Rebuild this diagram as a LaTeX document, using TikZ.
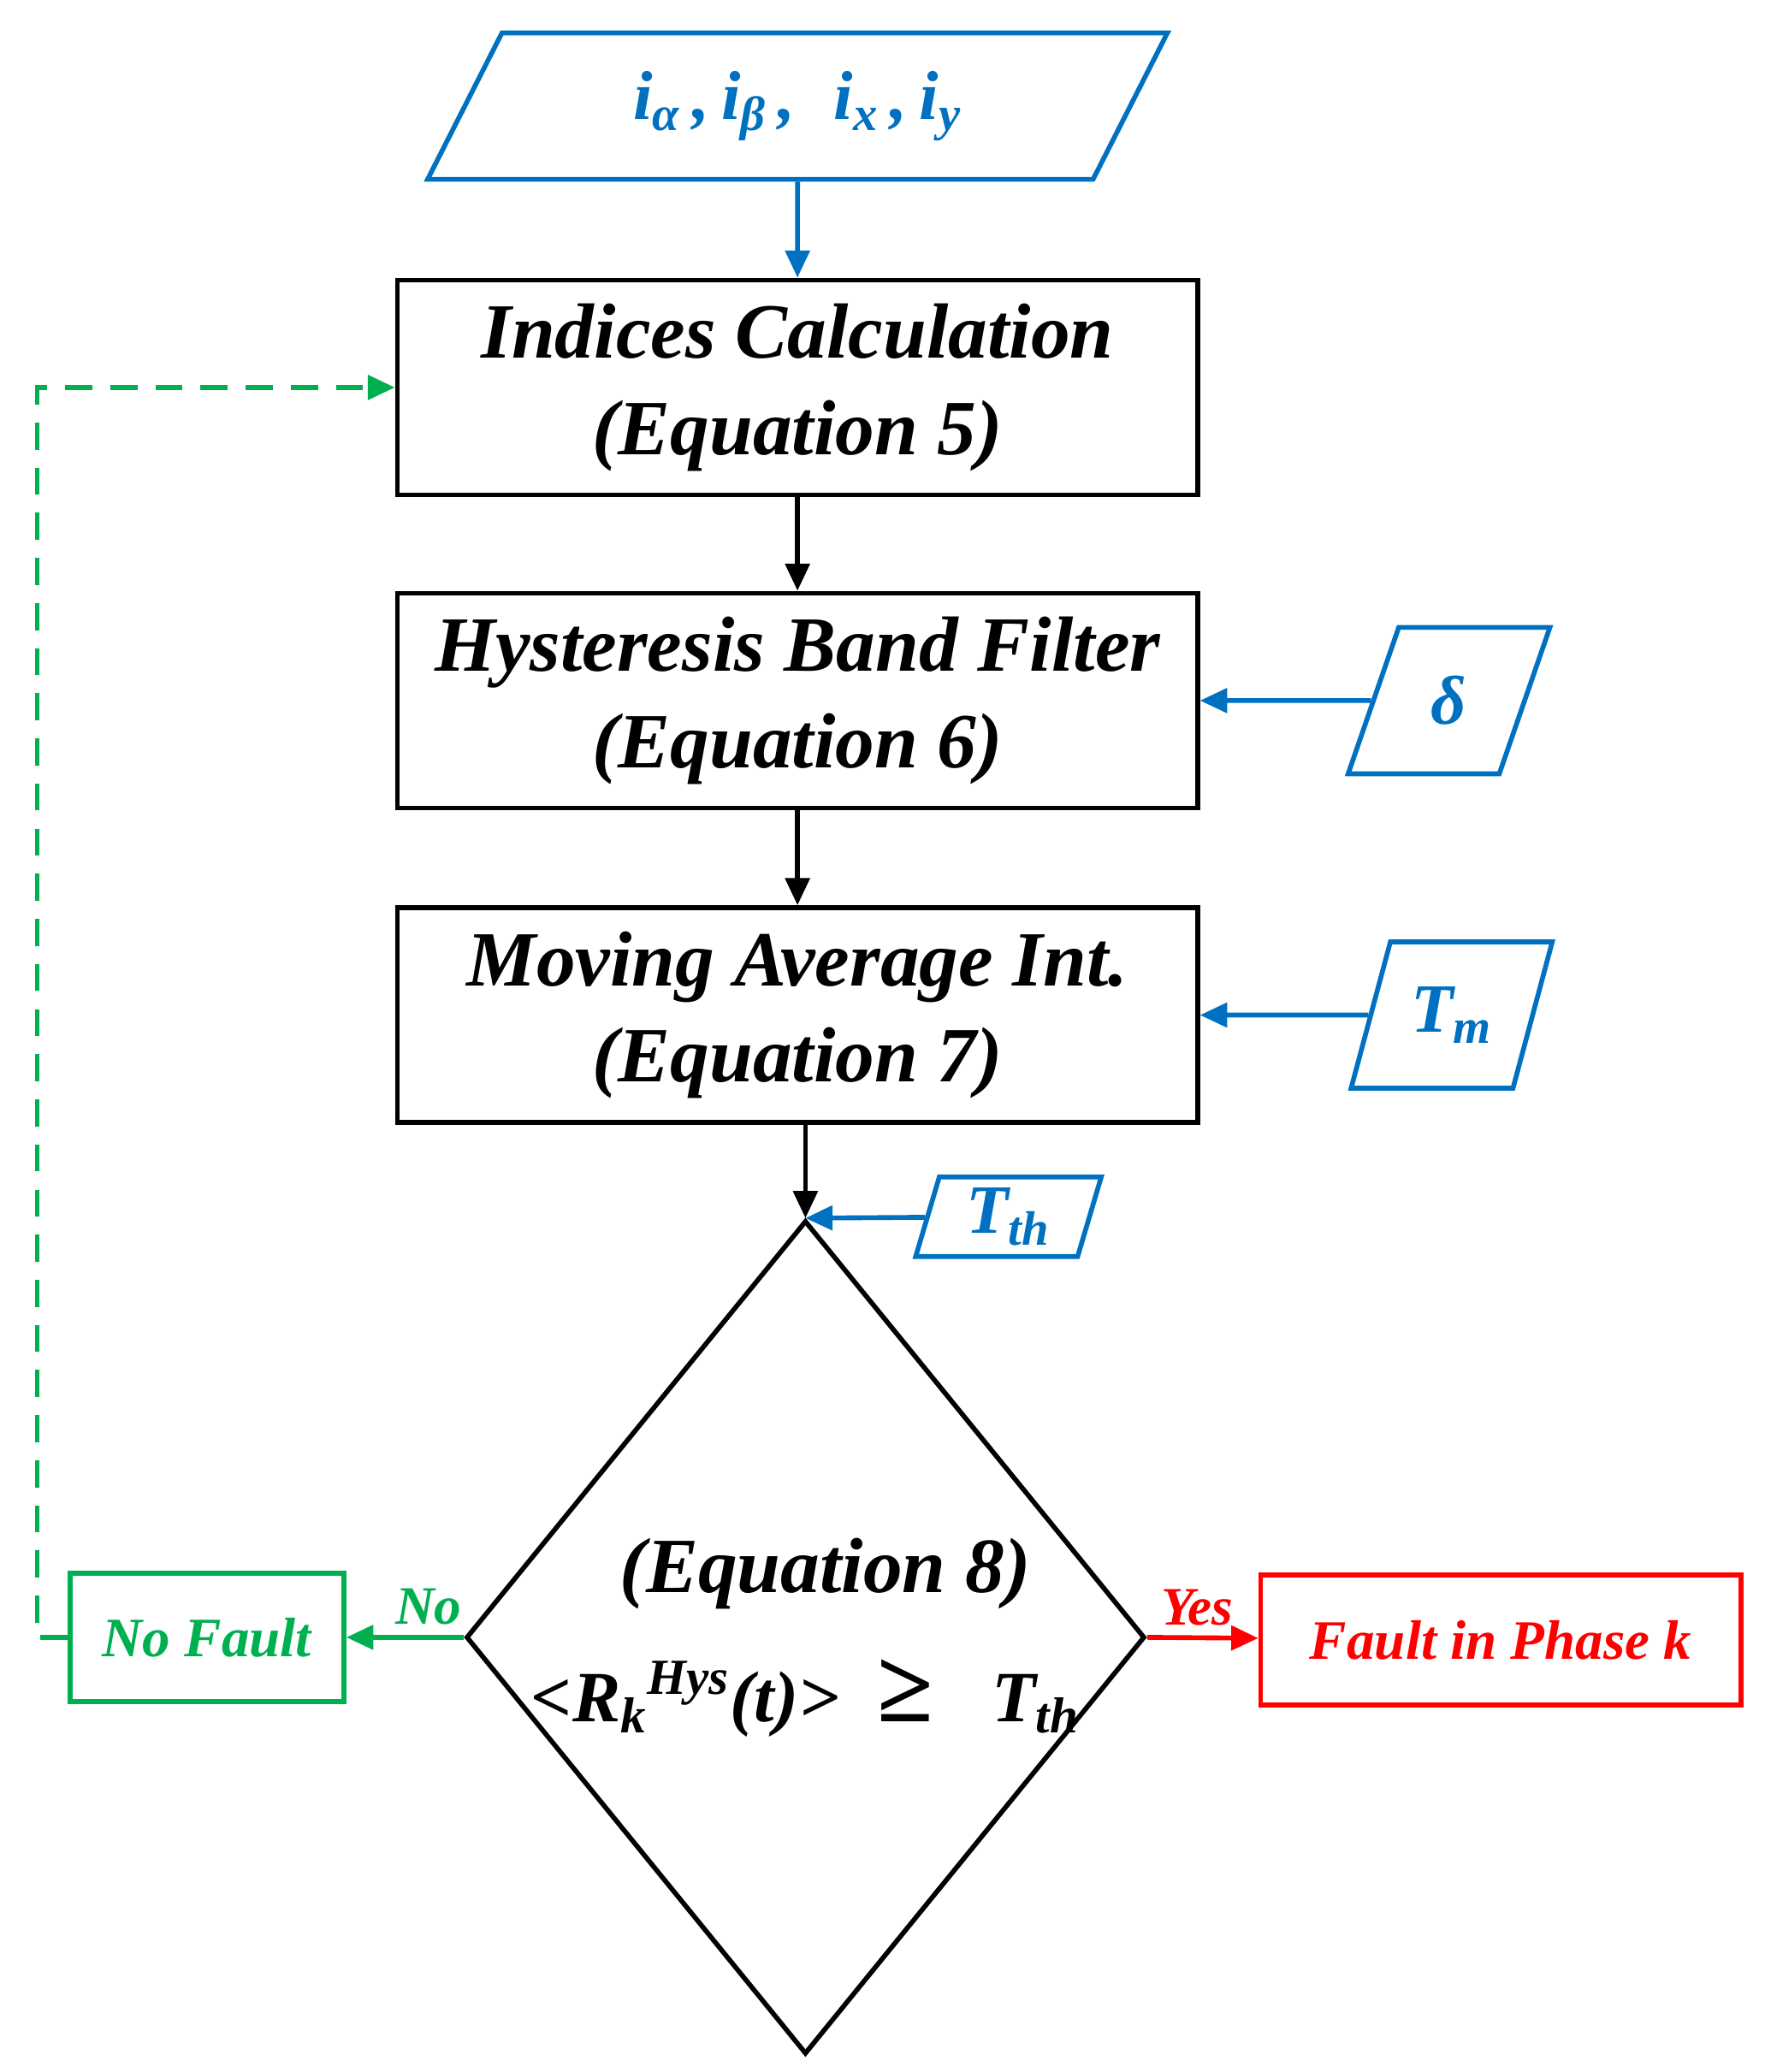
\documentclass[tikz,border=0pt]{standalone}
\usepackage{fontspec}
\setmainfont{Liberation Serif}
\usetikzlibrary{shapes.geometric,arrows.meta}
\definecolor{flowblue}{RGB}{0,112,192}
\definecolor{flowgreen}{RGB}{0,176,80}
\definecolor{flowred}{RGB}{255,0,0}
\tikzset{
  block/.style={draw,line width=1.6pt,minimum width=9.35cm,minimum height=2.51cm,align=center,
    font=\fontsize{26}{32}\selectfont\bfseries\itshape},
  param/.style={draw=flowblue,text=flowblue,line width=1.6pt,trapezium,trapezium stretches=true,
    font=\fontsize{23}{26}\selectfont\bfseries\itshape},
  link/.style={line width=1.6pt,-{Triangle[length=9pt,width=8pt]}},
  smallbox/.style={draw,line width=1.6pt,font=\fontsize{18.5}{22}\selectfont\bfseries\itshape}
}
\begin{document}
\begin{tikzpicture}[x=0.01551cm,y=-0.01551cm]
\useasboundingbox (0,0) rectangle (1330,1561.6);

% inputs
\node[param,trapezium left angle=64,trapezium right angle=116,minimum width=8.65cm,minimum height=1.71cm] (inp) at (601,80)
  {i\textsubscript{α}\,,\,i\textsubscript{β}\,,\;\;i\textsubscript{x}\,,\,i\textsubscript{y}};
\node[param,trapezium left angle=68,trapezium right angle=112,minimum width=2.36cm,minimum height=1.71cm] (delta) at (1092,528) {δ};
\node[param,trapezium left angle=67,trapezium right angle=113,minimum width=2.36cm,minimum height=1.71cm] (tm) at (1094,765) {T\textsubscript{m}};
\node[param,trapezium left angle=77,trapezium right angle=103,minimum width=2.17cm,minimum height=0.93cm] (tth) at (760,917) {T\textsubscript{th}};

% blocks
\node[block] (idx) at (601,292) {Indices Calculation\\(Equation 5)};
\node[block] (hys) at (601,528) {Hysteresis Band Filter\\(Equation 6)};
\node[block] (mav) at (601,765) {Moving Average Int.\\(Equation 7)};

% decision
\node[draw,diamond,line width=1.6pt,minimum width=7.93cm,minimum height=9.74cm,inner sep=0pt] (dec) at (607,1234) {};
\node[font=\fontsize{26}{30}\selectfont\bfseries\itshape] (eq8) at (622,1186) {(Equation 8)};
\node[font=\fontsize{24}{28}\selectfont\bfseries\itshape] (cond) at (607,1280)
  {<R\textsubscript{k}\textsuperscript{Hys}(t)>\; {\upshape\fontsize{34}{34}\selectfont ≥}\;\; T\textsubscript{th}};

\node[smallbox,draw=flowgreen,text=flowgreen,minimum width=3.2cm,minimum height=1.5cm] (nofault) at (156,1234) {No Fault};
\node[smallbox,draw=flowred,text=flowred,minimum width=5.61cm,minimum height=1.52cm] (fault) at (1131,1236) {Fault in Phase k};

% connectors
\draw[link,flowblue] (inp) -- (idx);
\draw[link] (idx) -- (hys);
\draw[link] (hys) -- (mav);
\draw[link] (dec.north |- mav.south) -- (dec.north);
\draw[link,flowblue] (delta) -- (hys);
\draw[link,flowblue] (tm) -- (mav);
\draw[link,flowblue] (tth) -- (dec.north);
\draw[link,flowgreen] (dec.west) -- node[above,pos=0.3,font=\fontsize{18}{20}\selectfont\bfseries\itshape] {No} (nofault);
\draw[link,flowred] (dec.east) -- node[above,pos=0.45,font=\fontsize{18}{20}\selectfont\bfseries\itshape] {Yes} (fault);
\draw[link,flowgreen,dashed,dash pattern=on 9pt off 6pt] (nofault.west) -- ++(-23,0) |- (idx.west);
\end{tikzpicture}
\end{document}
